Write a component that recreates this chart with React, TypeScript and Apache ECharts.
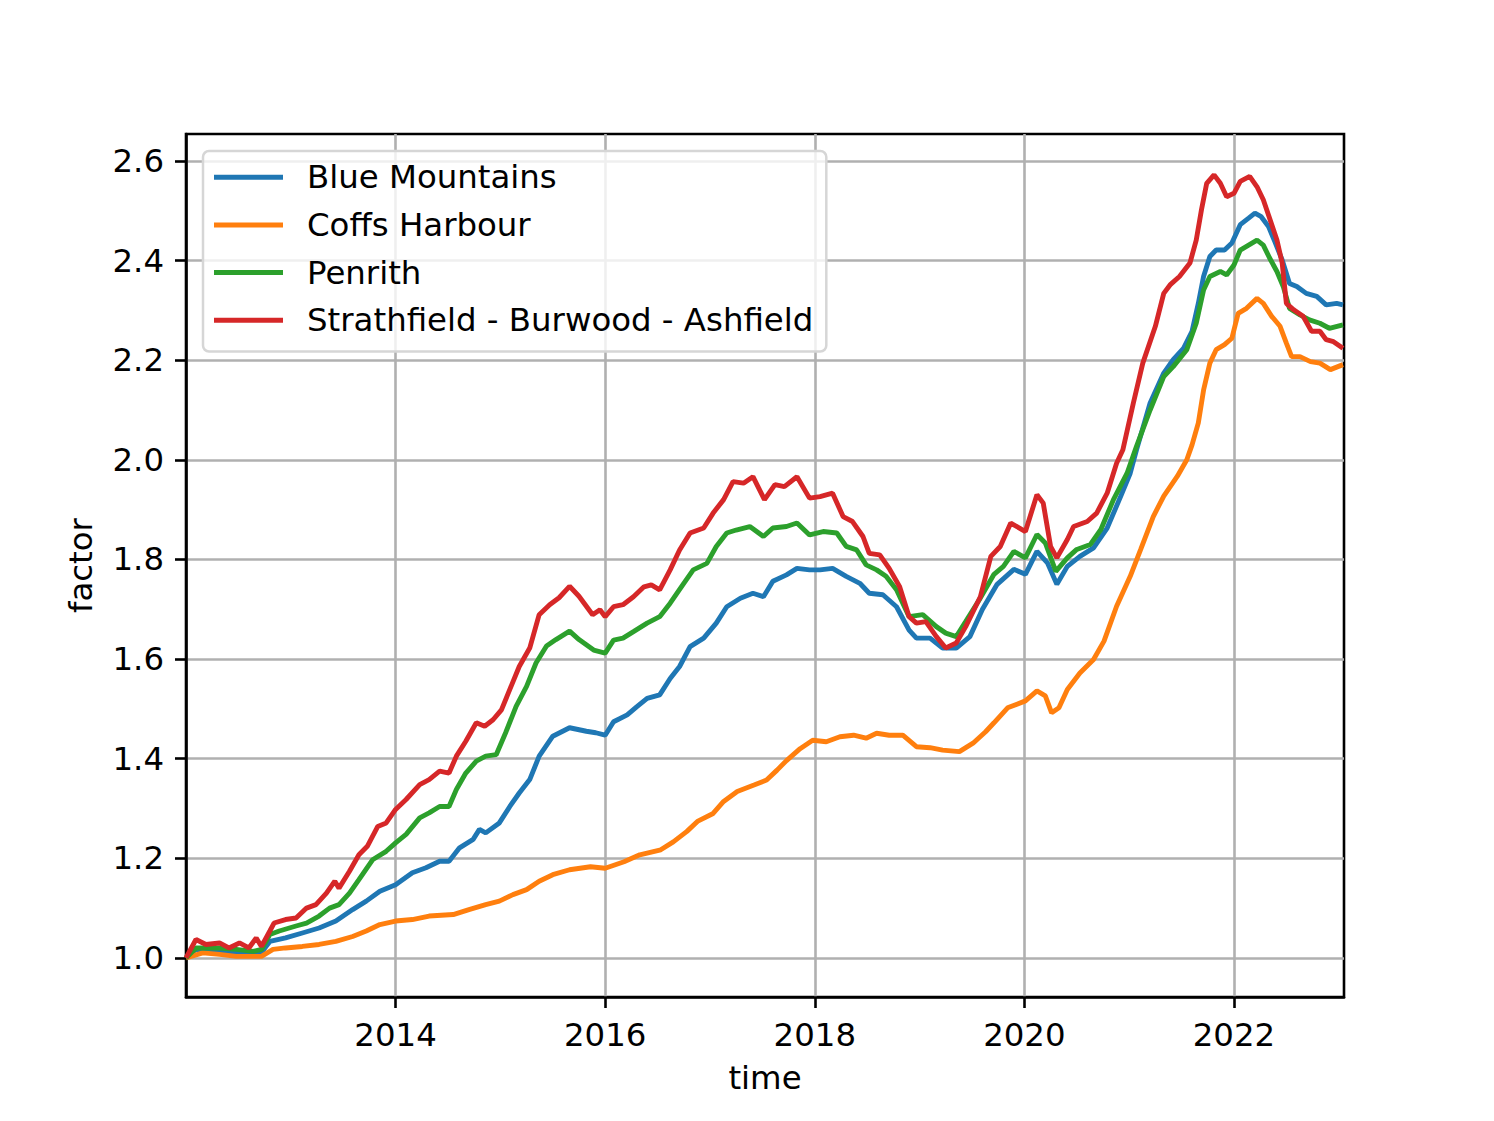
import React, { useEffect, useRef } from "react";
import * as echarts from "echarts";

const seriesNames = ["Blue Mountains", "Coffs Harbour", "Penrith", "Strathfield - Burwood - Ashfield"];
const seriesColors = ["#1f77b4", "#ff7f0e", "#2ca02c", "#d62728"];
const xTicks = [2014, 2016, 2018, 2020, 2022];
const yTicks = [1.0, 1.2, 1.4, 1.6, 1.8, 2.0, 2.2, 2.4, 2.6];

const blueMountains: [number, number][] = [
  [2012.0, 1.0], [2012.095, 1.017], [2012.32, 1.013], [2012.64, 1.01], [2012.72, 1.011], [2012.8, 1.033],
  [2012.95, 1.04], [2013.11, 1.05], [2013.27, 1.06], [2013.43, 1.074], [2013.59, 1.097], [2013.72, 1.114],
  [2013.85, 1.134], [2014.0, 1.147], [2014.16, 1.171], [2014.29, 1.181], [2014.42, 1.194], [2014.51, 1.194],
  [2014.61, 1.221], [2014.74, 1.238], [2014.8, 1.258], [2014.86, 1.251], [2014.99, 1.271], [2015.09, 1.304],
  [2015.18, 1.331], [2015.28, 1.358], [2015.37, 1.405], [2015.5, 1.445], [2015.66, 1.462], [2015.82, 1.455],
  [2015.91, 1.452], [2016.0, 1.447], [2016.08, 1.474], [2016.21, 1.488], [2016.3, 1.504], [2016.4, 1.521],
  [2016.52, 1.528], [2016.62, 1.561], [2016.71, 1.585], [2016.81, 1.625], [2016.94, 1.642], [2017.06, 1.672],
  [2017.16, 1.705], [2017.29, 1.722], [2017.41, 1.732], [2017.51, 1.725], [2017.6, 1.756], [2017.73, 1.769],
  [2017.83, 1.782], [2017.95, 1.779], [2018.05, 1.779], [2018.17, 1.782], [2018.3, 1.766], [2018.43, 1.752],
  [2018.52, 1.732], [2018.65, 1.729], [2018.78, 1.705], [2018.9, 1.658], [2018.97, 1.642], [2019.1, 1.642],
  [2019.22, 1.622], [2019.35, 1.622], [2019.48, 1.645], [2019.6, 1.7], [2019.74, 1.75], [2019.9, 1.78],
  [2020.01, 1.77], [2020.12, 1.816], [2020.22, 1.793], [2020.31, 1.75], [2020.41, 1.786], [2020.53, 1.806],
  [2020.66, 1.823], [2020.79, 1.863], [2020.92, 1.927], [2021.01, 1.973], [2021.07, 2.02], [2021.2, 2.114],
  [2021.33, 2.174], [2021.42, 2.201], [2021.52, 2.224], [2021.6, 2.258], [2021.66, 2.314], [2021.71, 2.368],
  [2021.77, 2.408], [2021.83, 2.421], [2021.91, 2.421], [2021.98, 2.435], [2022.06, 2.472], [2022.14, 2.485],
  [2022.2, 2.495], [2022.26, 2.488], [2022.33, 2.468], [2022.39, 2.438], [2022.46, 2.401], [2022.53, 2.354],
  [2022.6, 2.348], [2022.69, 2.334], [2022.79, 2.328], [2022.88, 2.311], [2022.98, 2.314], [2023.04, 2.311],
];

const coffsHarbour: [number, number][] = [
  [2012.0, 1.0], [2012.16, 1.01], [2012.32, 1.007], [2012.48, 1.003], [2012.64, 1.003], [2012.72, 1.003],
  [2012.83, 1.017], [2012.95, 1.02], [2013.11, 1.023], [2013.27, 1.027], [2013.43, 1.033], [2013.59, 1.043],
  [2013.72, 1.054], [2013.85, 1.067], [2014.0, 1.074], [2014.16, 1.077], [2014.32, 1.084], [2014.55, 1.087],
  [2014.7, 1.097], [2014.86, 1.107], [2014.99, 1.114], [2015.12, 1.127], [2015.25, 1.137], [2015.37, 1.154],
  [2015.5, 1.167], [2015.66, 1.177], [2015.86, 1.183], [2016.0, 1.18], [2016.18, 1.193], [2016.33, 1.207],
  [2016.53, 1.217], [2016.65, 1.233], [2016.78, 1.254], [2016.88, 1.274], [2017.03, 1.29], [2017.13, 1.314],
  [2017.26, 1.334], [2017.42, 1.347], [2017.54, 1.357], [2017.64, 1.377], [2017.73, 1.396], [2017.86, 1.42],
  [2017.98, 1.437], [2018.11, 1.434], [2018.24, 1.444], [2018.37, 1.447], [2018.49, 1.441], [2018.59, 1.451],
  [2018.71, 1.447], [2018.84, 1.447], [2018.97, 1.424], [2019.1, 1.422], [2019.22, 1.417], [2019.38, 1.414],
  [2019.51, 1.431], [2019.63, 1.454], [2019.71, 1.472], [2019.84, 1.502], [2020.01, 1.516], [2020.12, 1.536],
  [2020.2, 1.526], [2020.26, 1.492], [2020.33, 1.502], [2020.41, 1.539], [2020.53, 1.572], [2020.66, 1.599],
  [2020.76, 1.636], [2020.88, 1.706], [2021.01, 1.766], [2021.11, 1.82], [2021.23, 1.886], [2021.33, 1.927],
  [2021.46, 1.967], [2021.55, 2.0], [2021.6, 2.03], [2021.66, 2.074], [2021.71, 2.14], [2021.77, 2.194],
  [2021.83, 2.221], [2021.91, 2.231], [2021.98, 2.244], [2022.04, 2.294], [2022.12, 2.304], [2022.22, 2.324],
  [2022.28, 2.314], [2022.36, 2.288], [2022.44, 2.268], [2022.5, 2.234], [2022.55, 2.207], [2022.63, 2.207],
  [2022.73, 2.197], [2022.82, 2.194], [2022.92, 2.181], [2023.04, 2.191],
];

const penrith: [number, number][] = [
  [2012.0, 1.0], [2012.095, 1.02], [2012.32, 1.02], [2012.48, 1.017], [2012.64, 1.013], [2012.72, 1.017],
  [2012.8, 1.047], [2012.89, 1.054], [2013.05, 1.064], [2013.15, 1.07], [2013.27, 1.084], [2013.37, 1.1],
  [2013.46, 1.107], [2013.56, 1.13], [2013.65, 1.157], [2013.78, 1.197], [2013.91, 1.214], [2014.0, 1.231],
  [2014.1, 1.248], [2014.23, 1.281], [2014.32, 1.291], [2014.42, 1.304], [2014.51, 1.304], [2014.58, 1.338],
  [2014.67, 1.371], [2014.77, 1.395], [2014.86, 1.405], [2014.96, 1.408], [2015.05, 1.452], [2015.15, 1.505],
  [2015.25, 1.545], [2015.34, 1.592], [2015.44, 1.626], [2015.53, 1.639], [2015.66, 1.656], [2015.75, 1.639],
  [2015.89, 1.618], [2016.0, 1.612], [2016.08, 1.638], [2016.17, 1.642], [2016.27, 1.655], [2016.4, 1.672],
  [2016.52, 1.685], [2016.62, 1.712], [2016.75, 1.752], [2016.84, 1.779], [2016.97, 1.792], [2017.06, 1.826],
  [2017.16, 1.853], [2017.25, 1.859], [2017.38, 1.866], [2017.51, 1.846], [2017.6, 1.863], [2017.73, 1.866],
  [2017.83, 1.873], [2017.95, 1.849], [2018.08, 1.856], [2018.21, 1.853], [2018.3, 1.826], [2018.4, 1.819],
  [2018.49, 1.789], [2018.59, 1.779], [2018.68, 1.766], [2018.78, 1.739], [2018.9, 1.685], [2019.03, 1.689],
  [2019.16, 1.665], [2019.25, 1.652], [2019.35, 1.645], [2019.44, 1.675], [2019.57, 1.719], [2019.71, 1.77],
  [2019.8, 1.786], [2019.9, 1.816], [2020.01, 1.803], [2020.12, 1.85], [2020.2, 1.833], [2020.3, 1.776],
  [2020.41, 1.803], [2020.5, 1.82], [2020.63, 1.83], [2020.73, 1.86], [2020.85, 1.92], [2020.98, 1.973],
  [2021.07, 2.027], [2021.2, 2.1], [2021.33, 2.167], [2021.42, 2.187], [2021.55, 2.221], [2021.64, 2.274],
  [2021.71, 2.341], [2021.77, 2.368], [2021.87, 2.378], [2021.93, 2.371], [2022.0, 2.391], [2022.06, 2.421],
  [2022.14, 2.431], [2022.22, 2.441], [2022.28, 2.431], [2022.34, 2.405], [2022.41, 2.378], [2022.47, 2.348],
  [2022.53, 2.304], [2022.63, 2.291], [2022.72, 2.281], [2022.82, 2.274], [2022.91, 2.264], [2023.04, 2.271],
];

const strathfield: [number, number][] = [
  [2012.0, 1.0], [2012.095, 1.037], [2012.19, 1.027], [2012.32, 1.03], [2012.41, 1.02], [2012.51, 1.03],
  [2012.6, 1.02], [2012.67, 1.04], [2012.72, 1.023], [2012.8, 1.054], [2012.84, 1.07], [2012.95, 1.077],
  [2013.05, 1.08], [2013.15, 1.1], [2013.24, 1.107], [2013.34, 1.13], [2013.42, 1.154], [2013.46, 1.14],
  [2013.56, 1.174], [2013.65, 1.207], [2013.73, 1.224], [2013.83, 1.264], [2013.91, 1.271], [2014.0, 1.298],
  [2014.1, 1.318], [2014.23, 1.348], [2014.32, 1.358], [2014.42, 1.375], [2014.51, 1.371], [2014.58, 1.405],
  [2014.67, 1.435], [2014.77, 1.472], [2014.85, 1.465], [2014.93, 1.478], [2015.01, 1.498], [2015.09, 1.539],
  [2015.18, 1.585], [2015.28, 1.622], [2015.37, 1.689], [2015.47, 1.709], [2015.56, 1.723], [2015.66, 1.746],
  [2015.75, 1.726], [2015.88, 1.689], [2015.95, 1.699], [2016.0, 1.685], [2016.08, 1.705], [2016.17, 1.709],
  [2016.27, 1.725], [2016.37, 1.745], [2016.44, 1.749], [2016.52, 1.739], [2016.62, 1.779], [2016.71, 1.819],
  [2016.81, 1.853], [2016.94, 1.863], [2017.03, 1.893], [2017.13, 1.92], [2017.22, 1.956], [2017.32, 1.953],
  [2017.41, 1.966], [2017.52, 1.92], [2017.62, 1.95], [2017.71, 1.946], [2017.83, 1.966], [2017.95, 1.923],
  [2018.05, 1.926], [2018.17, 1.933], [2018.27, 1.886], [2018.36, 1.876], [2018.46, 1.846], [2018.52, 1.812],
  [2018.62, 1.809], [2018.71, 1.782], [2018.81, 1.745], [2018.9, 1.685], [2018.97, 1.672], [2019.06, 1.675],
  [2019.16, 1.645], [2019.25, 1.622], [2019.35, 1.632], [2019.44, 1.665], [2019.58, 1.725], [2019.68, 1.806],
  [2019.77, 1.826], [2019.87, 1.873], [2020.01, 1.856], [2020.12, 1.93], [2020.18, 1.913], [2020.25, 1.826],
  [2020.31, 1.803], [2020.41, 1.84], [2020.47, 1.866], [2020.6, 1.876], [2020.69, 1.893], [2020.79, 1.933],
  [2020.88, 1.993], [2020.94, 2.02], [2021.04, 2.114], [2021.13, 2.194], [2021.25, 2.268], [2021.33, 2.334],
  [2021.39, 2.351], [2021.48, 2.368], [2021.58, 2.395], [2021.64, 2.441], [2021.69, 2.502], [2021.74, 2.555],
  [2021.81, 2.572], [2021.87, 2.555], [2021.93, 2.528], [2022.0, 2.535], [2022.06, 2.559], [2022.15, 2.569],
  [2022.22, 2.548], [2022.28, 2.522], [2022.34, 2.485], [2022.41, 2.441], [2022.46, 2.395], [2022.5, 2.314],
  [2022.57, 2.301], [2022.66, 2.288], [2022.74, 2.258], [2022.82, 2.258], [2022.88, 2.241], [2022.95, 2.237],
  [2023.04, 2.224],
];

const seriesData = [blueMountains, coffsHarbour, penrith, strathfield];

const FONT = "DejaVu Sans";
const FS = 32.4;

export default function App() {
  const ref = useRef<HTMLDivElement>(null);
  useEffect(() => {
    if (!ref.current) return;
    const chart = echarts.init(ref.current, null, { renderer: "svg" });
    const lineW = 4.9;
    chart.setOption({
      animation: false,
      backgroundColor: "#ffffff",
      grid: {
        left: 178,
        top: 126,
        width: 1158,
        height: 863,
        show: true,
        borderColor: "#000000",
        borderWidth: 2.6,
        backgroundColor: "transparent",
      },
      legend: {
        orient: "vertical",
        left: 195,
        top: 143,
        icon: "rect",
        itemWidth: 69,
        itemHeight: 5,
        itemGap: 15.3,
        padding: [10, 13, 15, 11],
        backgroundColor: "rgba(255,255,255,0.8)",
        borderColor: "#d6d6d6",
        borderWidth: 2.5,
        borderRadius: 6,
        textStyle: {
          fontFamily: FONT,
          fontSize: FS,
          lineHeight: FS,
          color: "#000000",
          padding: [0, 0, 0, 19],
        },
        data: seriesNames,
      },
      xAxis: {
        type: "value",
        min: 2012,
        max: 2023.05,
        name: "time",
        nameLocation: "middle",
        nameGap: 65,
        nameTextStyle: { fontFamily: FONT, fontSize: FS, color: "#000000" },
        axisLine: { show: true, lineStyle: { color: "#000000", width: 2.6 } },
        axisTick: {
          show: true,
          length: 11,
          customValues: xTicks,
          lineStyle: { color: "#000000", width: 2.6 },
        },
        axisLabel: {
          margin: 22,
          customValues: xTicks,
          fontFamily: FONT,
          fontSize: FS,
          color: "#000000",
          formatter: (v: number) => String(Math.round(v)),
        },
        splitLine: { show: true, lineStyle: { color: "#b0b0b0", width: 2.6 } },
      },
      yAxis: {
        type: "value",
        min: 0.9215,
        max: 2.654,
        name: "factor",
        nameLocation: "middle",
        nameGap: 89,
        nameRotate: 90,
        nameTextStyle: { fontFamily: FONT, fontSize: FS, color: "#000000" },
        axisLine: { show: true, lineStyle: { color: "#000000", width: 2.6 } },
        axisTick: {
          show: true,
          length: 11,
          customValues: yTicks,
          lineStyle: { color: "#000000", width: 2.6 },
        },
        axisLabel: {
          margin: 22,
          customValues: yTicks,
          fontFamily: FONT,
          fontSize: FS,
          color: "#000000",
          formatter: (v: number) => v.toFixed(1),
        },
        splitLine: { show: true, lineStyle: { color: "#b0b0b0", width: 2.6 } },
      },
      series: seriesNames.map((name, i) => ({
        name,
        type: "line",
        data: seriesData[i],
        showSymbol: false,
        symbol: "none",
        color: seriesColors[i],
        lineStyle: { width: lineW, color: seriesColors[i] },
        z: 2 + i,
      })),
    });
    return () => chart.dispose();
  }, []);
  return <div ref={ref} style={{ width: 1478, height: 1105 }} />;
}
